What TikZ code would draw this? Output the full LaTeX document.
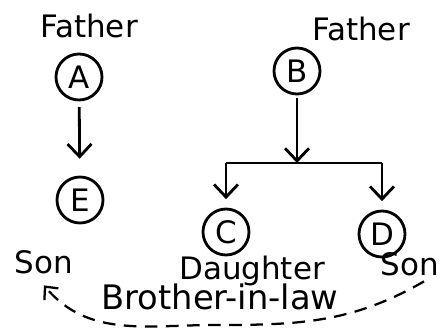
\documentclass[tikz,border=0pt]{standalone}
\usepackage{fontspec}
\setmainfont{DejaVu Sans}
\usetikzlibrary{arrows.meta, positioning}

\begin{document}
\begin{tikzpicture}[
    x=0.025cm, y=-0.025cm,
    person/.style={circle, draw=black, line width=2pt, minimum size=1.15cm, inner sep=0pt, font=\fontsize{22}{24}\selectfont},
    role/.style={font=\fontsize{22}{24}\selectfont, inner sep=1pt},
    link/.style={line width=2pt, -{Straight Barb[length=9pt, width=17pt, line width=2pt]}},
    node distance=0.3cm
]
    \useasboundingbox (0,0) rectangle (445,329);

    % Left family: A and his son E
    \node[person] (A) at (79,77) {A};
    \node[person] (E) at (80,200) {E};
    \node[role, above=0.32cm of A, xshift=0.25cm] (fatherA) {Father};
    \node[role] (sonE) at (44,262) {Son};

    % Right family: B with daughter C and son D
    \node[person] (B) at (297,71) {B};
    \node[person] (C) at (226,232) {C};
    \node[person] (D) at (382,234) {D};
    \node[role] (fatherB) at (361,29) {Father};
    \node[role] (daughterC) at (252,271) {Daughter};
    \node[role] (sonD) at (410,264) {Son};

    % Arrows
    \coordinate (split) at (297,163);
    \draw[link, shorten <=4pt, shorten >=12pt] (A) -- (E);
    \draw[link, shorten <=2pt] (B) -- (split);
    \draw[line width=2pt] (C |- split) -- (D |- split);
    \draw[link, shorten >=6pt] (C |- split) -- (C);
    \draw[link, shorten >=6pt] (D |- split) -- (D);

    % Relation between E and D
    \node[role, font=\fontsize{24}{26}\selectfont] (relation) at (220,297) {Brother-in-law};
    \coordinate (under) at (215,325);
    \draw[line width=1.6pt, dash pattern=on 9pt off 6pt, -{Straight Barb[length=7pt, width=13pt, line width=1.6pt]}]
        ([xshift=0.35cm, yshift=-0.1cm]sonD.south) to[out=210, in=0] (under) to[out=180, in=-50] ([yshift=-0.25cm]sonE.south);
\end{tikzpicture}
\end{document}
